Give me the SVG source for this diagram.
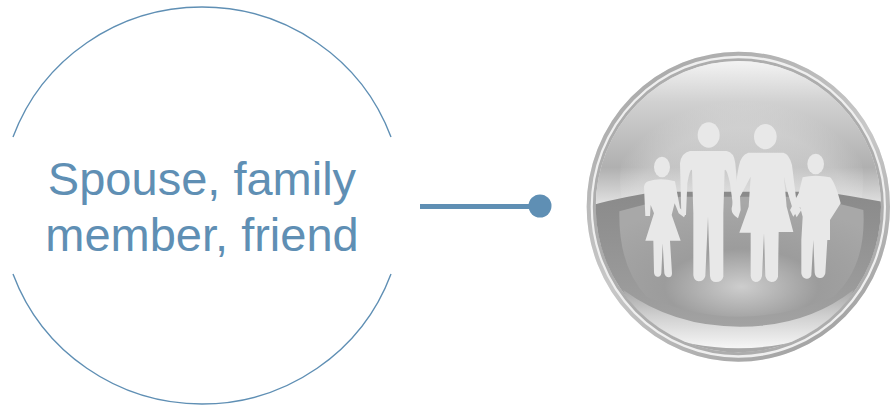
<svg xmlns="http://www.w3.org/2000/svg" width="890" height="408" viewBox="0 0 890 408">
<style>
.lbl{font-family:"Liberation Sans",Arial,sans-serif;font-size:47px;fill:#5f8fb4;text-anchor:middle}
.arc{fill:none;stroke:#5f8fb4;stroke-width:1.4}
.fig{fill:#e8e8e8}
</style>
<defs>
<linearGradient id="rim" x1="0.2" y1="0" x2="0.8" y2="1"><stop offset="0" stop-color="#a8a8a8"/><stop offset="0.5" stop-color="#c8c8c8"/><stop offset="1" stop-color="#a0a0a0"/></linearGradient>
<linearGradient id="sky" x1="0" y1="0" x2="0" y2="1"><stop offset="0" stop-color="#f4f4f4"/><stop offset="0.3" stop-color="#d0d0d0"/><stop offset="0.75" stop-color="#b0b0b0"/><stop offset="1" stop-color="#e0e0e0"/></linearGradient>
<radialGradient id="skyglow" cx="0.5" cy="0.75" r="0.6"><stop offset="0" stop-color="#e6e6e6" stop-opacity="0.6"/><stop offset="0.8" stop-color="#e6e6e6" stop-opacity="0.35"/><stop offset="1" stop-color="#e6e6e6" stop-opacity="0"/></radialGradient>
<linearGradient id="sea" x1="0" y1="0" x2="0" y2="1"><stop offset="0" stop-color="#8a8a8a"/><stop offset="0.7" stop-color="#9e9e9e"/><stop offset="1" stop-color="#aaaaaa"/></linearGradient>
<radialGradient id="glow" cx="0.5" cy="0.75" r="0.7"><stop offset="0" stop-color="#cdcdcd"/><stop offset="0.45" stop-color="#9c9c9c"/><stop offset="1" stop-color="#a8a8a8"/></radialGradient>
<linearGradient id="crescent" x1="0" y1="0" x2="0" y2="1"><stop offset="0" stop-color="#a8a8a8"/><stop offset="0.45" stop-color="#d0d0d0"/><stop offset="1" stop-color="#f6f6f6"/></linearGradient>
<clipPath id="disc"><ellipse cx="475" cy="500" rx="428" ry="437"/></clipPath>
</defs>
<g id="node-label">
<path class="arc" d="M13 137A201.500 199 0 0 1 391 137"/>
<path class="arc" d="M13 274A201.500 199 0 0 0 391 274"/>
<text class="lbl" x="202" y="195">Spouse, family</text>
<text class="lbl" x="202" y="251">member, friend</text>
</g>
<g id="connectors">
<line x1="420" y1="206.500" x2="540" y2="206.500" stroke="#5f8fb4" stroke-width="5"/>
<circle cx="540" cy="206" r="11.500" fill="#5f8fb4"/>
</g>
<g id="node-family" transform="translate(580 40) scale(.33333)">
<ellipse cx="475" cy="500" rx="455" ry="465" fill="#efefef"/>
<ellipse cx="475" cy="500" rx="449" ry="459" fill="none" stroke="url(#rim)" stroke-width="12"/>
<ellipse cx="475" cy="500" rx="432" ry="441" fill="#f2f2f2" stroke="#adadad" stroke-width="9"/>
<g clip-path="url(#disc)">
<rect x="40" y="60" width="880" height="430" fill="url(#sky)"/>
<ellipse cx="485" cy="420" rx="365" ry="340" fill="url(#skyglow)"/>
<path d="M40 494Q130 470 230 455L730 455Q830 470 930 490V950H40Z" fill="url(#sea)"/>
<path d="M118 514Q200 490 300 470L680 470Q780 490 850 510Q860 680 760 770Q620 830 480 830Q340 830 200 770Q115 680 118 514Z" fill="url(#glow)"/>
<path d="M130 750Q280 860 480 860Q680 860 820 750Q780 920 475 925Q170 920 130 750Z" fill="url(#crescent)"/>
</g>
<g id="figures" class="fig">
<ellipse cx="246" cy="381" rx="24" ry="31"/>
<path d="M205 424Q240 412 285 424L300 505L318 520L312 532L296 520L284 490L275 525L302 602H270L276 700Q276 712 266 712Q256 712 253 700L248 610L244 700Q242 712 232 710Q222 708 222 696L220 602H196L222 520L212 495L210 528H196L192 440Q194 428 205 424Z"/>
<ellipse cx="386" cy="285" rx="33" ry="38"/>
<path d="M330 333H440Q462 336 466 370L476 490Q478 510 462 520L450 430Q440 385 434 390L430 520V710Q426 726 408 726Q392 726 390 708L384 530L376 708Q372 724 356 724Q342 722 340 706V520L336 390Q330 385 322 430L318 525H304L300 370Q304 338 330 333Z"/>
<ellipse cx="556" cy="290" rx="34" ry="38"/>
<path d="M505 338H610Q628 342 636 375L650 490L664 510L650 532L636 500L618 440L612 410L620 500L640 576H596L594 710Q590 726 574 726Q560 724 556 708L552 580L546 708Q542 726 526 726Q514 724 512 708V578H478L506 500L512 410L480 470L482 510L474 535Q450 520 456 500L476 380Q482 345 505 338Z"/>
<ellipse cx="707" cy="372" rx="25" ry="31"/>
<path d="M668 412Q705 402 750 412Q765 425 782 490L750 540V600H742L736 700Q732 716 718 714Q706 712 704 698L700 600L694 706Q690 718 678 716Q666 714 664 700V600L668 530L660 500L640 530L630 510L656 460Z"/>
</g>
</g>
</svg>
